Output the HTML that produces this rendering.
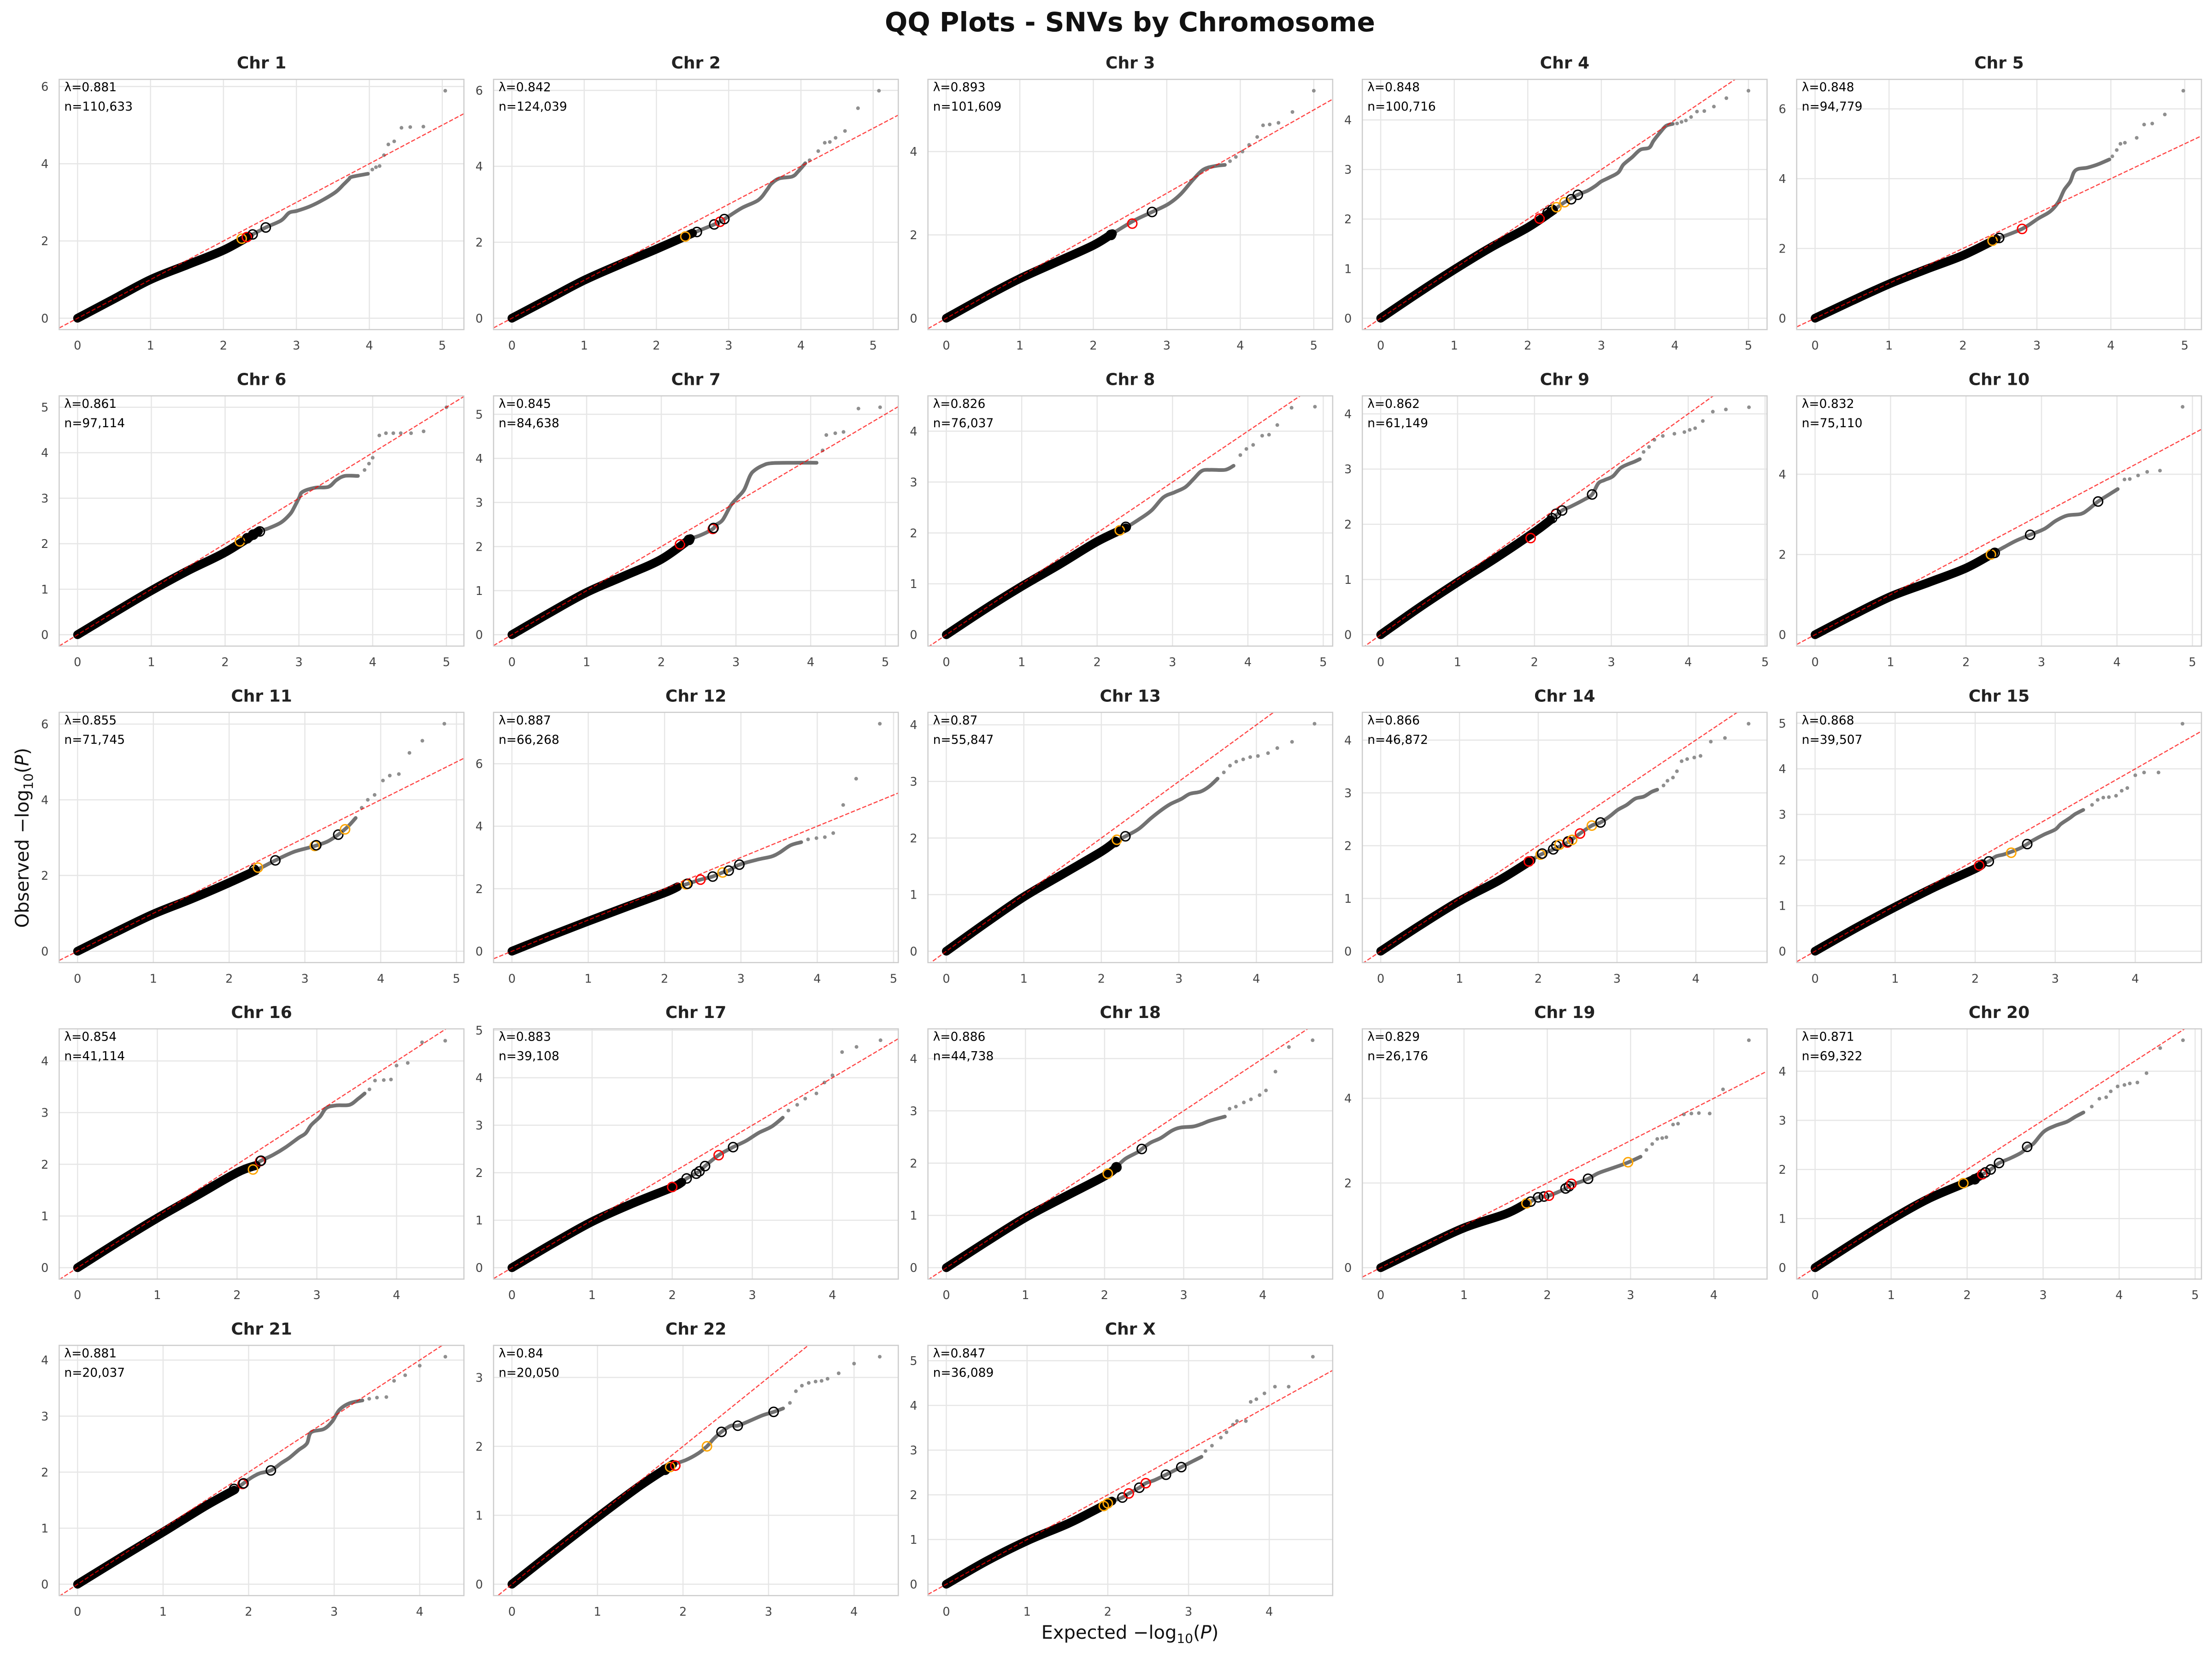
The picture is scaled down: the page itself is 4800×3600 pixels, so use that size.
<!DOCTYPE html>
<html><head><meta charset="utf-8">
<style>
html,body{margin:0;padding:0;background:#fff;}
body{width:4800px;height:3600px;overflow:hidden;}
svg{display:block;}
text{font-family:"DejaVu Sans","Liberation Sans",sans-serif;}
.tt{font-size:36px;font-weight:bold;text-anchor:middle;fill:#222;}
.lt{font-size:26.5px;fill:#000;}
.tk{font-size:25.5px;fill:#444;}
.gr{stroke:#e6e6e6;stroke-width:2.5;}
</style></head>
<body>
<svg xmlns="http://www.w3.org/2000/svg" width="4800" height="3600" viewBox="0 0 4800 3600">
<rect width="4800" height="3600" fill="#fff"/>
<text x="2452" y="68" font-size="58" font-weight="bold" text-anchor="middle" fill="#111">QQ Plots - SNVs by Chromosome</text>
<text x="2452" y="3556" font-size="40" text-anchor="middle" fill="#111">Expected −log<tspan font-size="28" dy="9">10</tspan><tspan dy="-9">(</tspan><tspan font-style="italic">P</tspan>)</text>
<text transform="translate(62,1818) rotate(-90)" font-size="40" text-anchor="middle" fill="#111">Observed −log<tspan font-size="28" dy="9">10</tspan><tspan dy="-9">(</tspan><tspan font-style="italic">P</tspan>)</text>

<g id="p0" transform="translate(128.4,172.2)"><text class="tt" x="439.15" y="-23.5">Chr 1</text><text class="lt" x="11" y="26">λ=0.881</text><text class="lt" x="11" y="68">n=110,633</text></g>
<g id="p1" transform="translate(1071,172.2)"><text class="tt" x="439.15" y="-23.5">Chr 2</text><text class="lt" x="11" y="26">λ=0.842</text><text class="lt" x="11" y="68">n=124,039</text></g>
<g id="p2" transform="translate(2013.6,172.2)"><text class="tt" x="439.15" y="-23.5">Chr 3</text><text class="lt" x="11" y="26">λ=0.893</text><text class="lt" x="11" y="68">n=101,609</text></g>
<g id="p3" transform="translate(2956.2,172.2)"><text class="tt" x="439.15" y="-23.5">Chr 4</text><text class="lt" x="11" y="26">λ=0.848</text><text class="lt" x="11" y="68">n=100,716</text></g>
<g id="p4" transform="translate(3898.8,172.2)"><text class="tt" x="439.15" y="-23.5">Chr 5</text><text class="lt" x="11" y="26">λ=0.848</text><text class="lt" x="11" y="68">n=94,779</text></g>

<g id="p5" transform="translate(128.4,859)"><text class="tt" x="439.15" y="-23.5">Chr 6</text><text class="lt" x="11" y="26">λ=0.861</text><text class="lt" x="11" y="68">n=97,114</text></g>
<g id="p6" transform="translate(1071,859)"><text class="tt" x="439.15" y="-23.5">Chr 7</text><text class="lt" x="11" y="26">λ=0.845</text><text class="lt" x="11" y="68">n=84,638</text></g>
<g id="p7" transform="translate(2013.6,859)"><text class="tt" x="439.15" y="-23.5">Chr 8</text><text class="lt" x="11" y="26">λ=0.826</text><text class="lt" x="11" y="68">n=76,037</text></g>
<g id="p8" transform="translate(2956.2,859)"><text class="tt" x="439.15" y="-23.5">Chr 9</text><text class="lt" x="11" y="26">λ=0.862</text><text class="lt" x="11" y="68">n=61,149</text></g>
<g id="p9" transform="translate(3898.8,859)"><text class="tt" x="439.15" y="-23.5">Chr 10</text><text class="lt" x="11" y="26">λ=0.832</text><text class="lt" x="11" y="68">n=75,110</text></g>

<g id="p10" transform="translate(128.4,1545.8)"><text class="tt" x="439.15" y="-23.5">Chr 11</text><text class="lt" x="11" y="26">λ=0.855</text><text class="lt" x="11" y="68">n=71,745</text></g>
<g id="p11" transform="translate(1071,1545.8)"><text class="tt" x="439.15" y="-23.5">Chr 12</text><text class="lt" x="11" y="26">λ=0.887</text><text class="lt" x="11" y="68">n=66,268</text></g>
<g id="p12" transform="translate(2013.6,1545.8)"><text class="tt" x="439.15" y="-23.5">Chr 13</text><text class="lt" x="11" y="26">λ=0.87</text><text class="lt" x="11" y="68">n=55,847</text></g>
<g id="p13" transform="translate(2956.2,1545.8)"><text class="tt" x="439.15" y="-23.5">Chr 14</text><text class="lt" x="11" y="26">λ=0.866</text><text class="lt" x="11" y="68">n=46,872</text></g>
<g id="p14" transform="translate(3898.8,1545.8)"><text class="tt" x="439.15" y="-23.5">Chr 15</text><text class="lt" x="11" y="26">λ=0.868</text><text class="lt" x="11" y="68">n=39,507</text></g>

<g id="p15" transform="translate(128.4,2232.6)"><text class="tt" x="439.15" y="-23.5">Chr 16</text><text class="lt" x="11" y="26">λ=0.854</text><text class="lt" x="11" y="68">n=41,114</text></g>
<g id="p16" transform="translate(1071,2232.6)"><text class="tt" x="439.15" y="-23.5">Chr 17</text><text class="lt" x="11" y="26">λ=0.883</text><text class="lt" x="11" y="68">n=39,108</text></g>
<g id="p17" transform="translate(2013.6,2232.6)"><text class="tt" x="439.15" y="-23.5">Chr 18</text><text class="lt" x="11" y="26">λ=0.886</text><text class="lt" x="11" y="68">n=44,738</text></g>
<g id="p18" transform="translate(2956.2,2232.6)"><text class="tt" x="439.15" y="-23.5">Chr 19</text><text class="lt" x="11" y="26">λ=0.829</text><text class="lt" x="11" y="68">n=26,176</text></g>
<g id="p19" transform="translate(3898.8,2232.6)"><text class="tt" x="439.15" y="-23.5">Chr 20</text><text class="lt" x="11" y="26">λ=0.871</text><text class="lt" x="11" y="68">n=69,322</text></g>

<g id="p20" transform="translate(128.4,2919.4)"><text class="tt" x="439.15" y="-23.5">Chr 21</text><text class="lt" x="11" y="26">λ=0.881</text><text class="lt" x="11" y="68">n=20,037</text></g>
<g id="p21" transform="translate(1071,2919.4)"><text class="tt" x="439.15" y="-23.5">Chr 22</text><text class="lt" x="11" y="26">λ=0.84</text><text class="lt" x="11" y="68">n=20,050</text></g>
<g id="p22" transform="translate(2013.6,2919.4)"><text class="tt" x="439.15" y="-23.5">Chr X</text><text class="lt" x="11" y="26">λ=0.847</text><text class="lt" x="11" y="68">n=36,089</text></g>
</svg>
<script>
var D=[
{n:110633,ym:5.89,st:2,
B:[[0,0],[0.5,0.5],[1,1.0],[1.5,1.38],[2,1.76],[2.35,2.12]],
G:[[2.35,2.12],[2.58,2.35],[2.79,2.53],[2.9,2.73],[3.01,2.78],[3.19,2.9],[3.37,3.07],[3.54,3.27],[3.65,3.47],[3.72,3.6],[3.76,3.66],[3.98,3.74]],
S:[[4.04,3.85],[4.09,3.91],[4.14,3.94],[4.2,4.22],[4.26,4.5],[4.34,4.58],[4.44,4.93],[4.56,4.95],[4.74,4.96],[5.04,5.89]],
C:[[2.25,2.06,'o'],[2.32,2.1,'r'],[2.4,2.17,'k'],[2.58,2.35,'k']]},
{n:124039,ym:5.99,st:2,
B:[[0,0],[0.5,0.5],[1,1.0],[1.5,1.42],[2,1.82],[2.5,2.24]],
G:[[2.5,2.24],[2.8,2.47],[2.94,2.61],[3.18,2.9],[3.41,3.11],[3.53,3.38],[3.59,3.54],[3.7,3.68],[3.88,3.73],[3.96,3.86],[4.06,4.08]],
S:[[4.12,4.16],[4.24,4.4],[4.33,4.62],[4.4,4.64],[4.48,4.75],[4.61,4.93],[4.79,5.53],[5.08,5.99]],
C:[[2.4,2.15,'o'],[2.56,2.27,'k'],[2.8,2.47,'k'],[2.88,2.54,'r'],[2.94,2.61,'k']]},
{n:101609,ym:5.46,st:2,
B:[[0,0],[0.5,0.49],[1,0.95],[1.5,1.35],[2,1.75],[2.26,2.03]],
G:[[2.26,2.03],[2.55,2.34],[2.8,2.55],[3.02,2.74],[3.19,2.98],[3.36,3.33],[3.5,3.57],[3.65,3.65],[3.79,3.68]],
S:[[3.86,3.77],[3.94,3.87],[4.03,4.0],[4.12,4.16],[4.23,4.35],[4.31,4.63],[4.4,4.65],[4.52,4.69],[4.71,4.95],[5.0,5.46]],
C:[[2.24,2.0,'k'],[2.53,2.27,'r'],[2.8,2.55,'k']]},
{n:100716,ym:4.59,st:1,
B:[[0,0],[0.5,0.5],[1,0.98],[1.5,1.43],[2,1.83],[2.35,2.18]],
G:[[2.35,2.18],[2.5,2.34],[2.68,2.49],[2.81,2.57],[2.92,2.67],[3.0,2.76],[3.11,2.84],[3.23,2.94],[3.3,3.1],[3.42,3.25],[3.53,3.4],[3.65,3.44],[3.71,3.58],[3.8,3.75],[3.88,3.88],[3.97,3.92]],
S:[[4.03,3.93],[4.09,3.96],[4.15,3.99],[4.22,4.06],[4.3,4.17],[4.4,4.18],[4.53,4.27],[4.7,4.44],[5.0,4.59]],
C:[[2.16,2.01,'r'],[2.27,2.13,'k'],[2.33,2.19,'k'],[2.39,2.24,'o'],[2.5,2.34,'o'],[2.59,2.4,'k'],[2.68,2.49,'k']]},
{n:94779,ym:6.52,st:2,
B:[[0,0],[0.5,0.5],[1,0.98],[1.5,1.4],[2,1.8],[2.45,2.27]],
G:[[2.45,2.27],[2.8,2.56],[3.02,2.86],[3.18,3.06],[3.29,3.33],[3.37,3.68],[3.45,3.91],[3.5,4.18],[3.56,4.28],[3.67,4.31],[3.77,4.37],[3.86,4.44],[3.98,4.55]],
S:[[4.02,4.64],[4.08,4.82],[4.13,5.0],[4.19,5.03],[4.35,5.17],[4.45,5.55],[4.56,5.58],[4.73,5.84],[4.98,6.52]],
C:[[2.4,2.22,'o'],[2.49,2.3,'k'],[2.8,2.56,'r']]},
{n:97114,ym:5.0,st:1,
B:[[0,0],[0.5,0.49],[1,0.97],[1.5,1.41],[2,1.81],[2.45,2.27]],
G:[[2.45,2.27],[2.59,2.34],[2.76,2.47],[2.88,2.65],[2.93,2.78],[3.0,3.0],[3.05,3.14],[3.22,3.23],[3.4,3.25],[3.51,3.4],[3.62,3.49],[3.8,3.49]],
S:[[3.89,3.62],[3.95,3.76],[4.0,3.89],[4.09,4.38],[4.18,4.43],[4.28,4.43],[4.38,4.43],[4.52,4.43],[4.69,4.47],[5.0,5.0]],
C:[[2.2,2.05,'o'],[2.3,2.12,'k'],[2.38,2.2,'k'],[2.47,2.27,'k']]},
{n:84638,ym:5.16,st:1,
B:[[0,0],[0.5,0.49],[1,0.96],[1.5,1.33],[2,1.71],[2.39,2.18]],
G:[[2.39,2.18],[2.53,2.26],[2.69,2.4],[2.73,2.49],[2.82,2.6],[2.93,2.93],[3.02,3.11],[3.11,3.29],[3.19,3.61],[3.25,3.73],[3.36,3.84],[3.47,3.89],[3.76,3.9],[4.08,3.9]],
S:[[4.16,4.18],[4.21,4.53],[4.33,4.57],[4.44,4.6],[4.64,5.13],[4.93,5.16]],
C:[[2.25,2.05,'r'],[2.37,2.15,'k'],[2.69,2.4,'r'],[2.7,2.42,'k']]},
{n:76037,ym:4.47,st:1,
B:[[0,0],[0.5,0.49],[1,0.95],[1.5,1.38],[2,1.83],[2.38,2.1]],
G:[[2.38,2.1],[2.55,2.26],[2.72,2.44],[2.88,2.7],[3.03,2.8],[3.17,2.9],[3.28,3.06],[3.39,3.22],[3.51,3.24],[3.7,3.24],[3.81,3.32]],
S:[[3.9,3.53],[3.98,3.65],[4.07,3.73],[4.19,3.91],[4.28,3.93],[4.39,4.12],[4.58,4.46],[4.89,4.48]],
C:[[2.3,2.05,'o'],[2.38,2.12,'k']]},
{n:61149,ym:4.12,st:1,
B:[[0,0],[0.5,0.49],[1,0.95],[1.5,1.39],[2,1.86],[2.21,2.08]],
G:[[2.21,2.08],[2.36,2.25],[2.47,2.32],[2.65,2.45],[2.75,2.54],[2.83,2.74],[2.91,2.8],[3.02,2.87],[3.13,3.03],[3.31,3.14],[3.37,3.18]],
S:[[3.42,3.31],[3.49,3.4],[3.56,3.53],[3.67,3.6],[3.82,3.64],[3.95,3.67],[4.02,3.71],[4.09,3.74],[4.19,3.87],[4.32,4.04],[4.49,4.08],[4.79,4.12]],
C:[[1.95,1.75,'r'],[2.23,2.11,'k'],[2.28,2.19,'k'],[2.36,2.25,'k'],[2.75,2.54,'k']]},
{n:75110,ym:5.67,st:2,
B:[[0,0],[0.5,0.49],[1,0.95],[1.5,1.3],[2,1.66],[2.37,2.04]],
G:[[2.37,2.04],[2.51,2.19],[2.66,2.34],[2.85,2.49],[3.04,2.64],[3.19,2.84],[3.34,2.97],[3.52,3.01],[3.62,3.12],[3.75,3.32],[3.9,3.5],[4.01,3.63]],
S:[[4.1,3.87],[4.17,3.88],[4.28,3.97],[4.4,4.06],[4.57,4.09],[4.87,5.68]],
C:[[2.33,2.0,'o'],[2.38,2.04,'k'],[2.85,2.49,'k'],[3.75,3.32,'k']]},
{n:71745,ym:6.01,st:2,
B:[[0,0],[0.5,0.5],[1,0.98],[1.5,1.38],[2,1.81],[2.35,2.13]],
G:[[2.35,2.13],[2.61,2.4],[2.8,2.58],[2.91,2.66],[3.13,2.78],[3.3,2.9],[3.44,3.08],[3.57,3.3],[3.67,3.52]],
S:[[3.75,3.79],[3.83,4.0],[3.92,4.13],[4.03,4.51],[4.12,4.64],[4.24,4.68],[4.38,5.24],[4.55,5.56],[4.84,6.01]],
C:[[2.33,2.15,'k'],[2.38,2.21,'o'],[2.61,2.4,'k'],[3.13,2.78,'o'],[3.15,2.8,'k'],[3.44,3.08,'k'],[3.53,3.22,'o']]},
{n:66268,ym:7.28,st:2,
B:[[0,0],[0.5,0.49],[1,0.96],[1.5,1.42],[2,1.87],[2.17,2.06]],
G:[[2.17,2.06],[2.28,2.14],[2.47,2.29],[2.63,2.39],[2.76,2.52],[2.84,2.58],[2.98,2.77],[3.23,2.94],[3.4,3.03],[3.51,3.16],[3.65,3.39],[3.79,3.49]],
S:[[3.88,3.58],[3.99,3.62],[4.1,3.65],[4.21,3.78],[4.34,4.68],[4.51,5.52],[4.82,7.28]],
C:[[2.28,2.14,'o'],[2.3,2.16,'k'],[2.47,2.29,'r'],[2.63,2.39,'k'],[2.76,2.52,'o'],[2.84,2.58,'k'],[2.98,2.77,'k']]},
{n:55847,ym:4.02,st:1,
B:[[0,0],[0.5,0.49],[1,0.96],[1.5,1.36],[2,1.76],[2.18,1.94]],
G:[[2.18,1.94],[2.31,2.03],[2.48,2.16],[2.64,2.35],[2.78,2.5],[2.89,2.6],[3.03,2.69],[3.14,2.78],[3.28,2.82],[3.39,2.91],[3.5,3.05]],
S:[[3.58,3.16],[3.66,3.28],[3.74,3.35],[3.83,3.39],[3.92,3.43],[4.02,3.45],[4.15,3.5],[4.27,3.59],[4.46,3.7],[4.75,4.02]],
C:[[2.18,1.93,'k'],[2.2,1.97,'o'],[2.31,2.03,'k']]},
{n:46872,ym:4.31,st:1,
B:[[0,0],[0.5,0.49],[1,0.95],[1.5,1.34],[1.91,1.72]],
G:[[1.91,1.72],[2.03,1.83],[2.19,1.93],[2.37,2.06],[2.53,2.23],[2.68,2.38],[2.79,2.44],[2.91,2.56],[3.01,2.68],[3.12,2.77],[3.23,2.89],[3.34,2.93],[3.44,3.02],[3.51,3.06]],
S:[[3.59,3.14],[3.64,3.23],[3.71,3.29],[3.76,3.41],[3.82,3.6],[3.89,3.64],[3.98,3.67],[4.06,3.7],[4.19,3.97],[4.37,4.04],[4.67,4.31]],
C:[[1.88,1.7,'r'],[2.03,1.83,'o'],[2.05,1.85,'k'],[2.19,1.93,'k'],[2.23,2.0,'k'],[2.27,2.02,'o'],[2.37,2.06,'r'],[2.38,2.08,'k'],[2.43,2.11,'o'],[2.53,2.23,'r'],[2.68,2.38,'o'],[2.79,2.44,'k']]},
{n:39507,ym:4.99,st:1,
B:[[0,0],[0.5,0.5],[1,0.97],[1.5,1.41],[2,1.81],[2.09,1.92]],
G:[[2.09,1.92],[2.17,1.97],[2.26,2.08],[2.37,2.13],[2.55,2.25],[2.65,2.35],[2.72,2.43],[2.86,2.56],[3.0,2.67],[3.07,2.79],[3.18,2.92],[3.25,3.01],[3.35,3.1]],
S:[[3.46,3.21],[3.53,3.32],[3.6,3.37],[3.67,3.38],[3.76,3.41],[3.83,3.52],[3.9,3.58],[4.0,3.86],[4.11,3.92],[4.29,3.92],[4.59,4.99]],
C:[[2.05,1.88,'r'],[2.17,1.97,'k'],[2.45,2.16,'o'],[2.65,2.35,'k']]},
{n:41114,ym:4.4,st:1,
B:[[0,0],[0.5,0.49],[1,0.96],[1.5,1.4],[2,1.84],[2.24,1.98]],
G:[[2.24,1.98],[2.29,2.06],[2.45,2.18],[2.61,2.33],[2.77,2.51],[2.86,2.6],[2.93,2.76],[3.04,2.92],[3.12,3.09],[3.25,3.14],[3.41,3.15],[3.52,3.27],[3.6,3.37]],
S:[[3.66,3.45],[3.73,3.62],[3.84,3.63],[3.93,3.64],[4.0,3.91],[4.14,3.96],[4.32,4.36],[4.61,4.39]],
C:[[2.2,1.9,'o'],[2.29,2.06,'r'],[2.3,2.07,'k']]},
{n:39108,ym:4.79,st:1,
B:[[0,0],[0.5,0.5],[1,0.97],[1.5,1.35],[2,1.69],[2.12,1.8]],
G:[[2.12,1.8],[2.18,1.88],[2.34,2.03],[2.41,2.14],[2.58,2.37],[2.76,2.54],[2.92,2.67],[3.08,2.84],[3.24,2.97],[3.38,3.16]],
S:[[3.45,3.31],[3.56,3.43],[3.66,3.56],[3.8,3.67],[3.9,3.9],[4.0,4.05],[4.12,4.54],[4.3,4.65],[4.6,4.79]],
C:[[2.0,1.7,'r'],[2.18,1.88,'k'],[2.3,1.98,'k'],[2.34,2.03,'k'],[2.41,2.14,'k'],[2.58,2.37,'r'],[2.76,2.54,'k']]},
{n:44738,ym:4.35,st:1,
B:[[0,0],[0.5,0.49],[1,0.96],[1.5,1.36],[2,1.75],[2.15,1.92]],
G:[[2.15,1.92],[2.26,2.08],[2.42,2.21],[2.47,2.27],[2.58,2.39],[2.71,2.48],[2.85,2.62],[2.96,2.68],[3.12,2.7],[3.23,2.75],[3.33,2.81],[3.52,2.89]],
S:[[3.58,3.04],[3.66,3.08],[3.76,3.16],[3.85,3.22],[3.96,3.3],[4.04,3.39],[4.16,3.75],[4.33,4.22],[4.63,4.35]],
C:[[2.04,1.8,'o'],[2.15,1.92,'k'],[2.47,2.27,'k']]},
{n:26176,ym:5.37,st:2,
B:[[0,0],[0.5,0.48],[1,0.94],[1.5,1.27],[1.74,1.51]],
G:[[1.74,1.51],[1.8,1.56],[1.89,1.66],[2.02,1.7],[2.22,1.87],[2.29,1.98],[2.34,1.99],[2.49,2.1],[2.61,2.23],[2.78,2.35],[2.95,2.47],[3.12,2.62]],
S:[[3.19,2.78],[3.26,2.92],[3.32,3.04],[3.38,3.06],[3.43,3.08],[3.51,3.38],[3.57,3.4],[3.64,3.62],[3.73,3.64],[3.82,3.65],[3.95,3.64],[4.11,4.21],[4.42,5.37]],
C:[[1.75,1.52,'o'],[1.8,1.56,'k'],[1.89,1.66,'k'],[1.96,1.68,'k'],[2.02,1.7,'r'],[2.22,1.87,'k'],[2.26,1.92,'k'],[2.29,1.98,'r'],[2.49,2.1,'k'],[2.97,2.49,'o']]},
{n:69322,ym:4.63,st:1,
B:[[0,0],[0.5,0.5],[1,0.98],[1.5,1.41],[2,1.74],[2.16,1.86]],
G:[[2.16,1.86],[2.31,2.0],[2.42,2.13],[2.57,2.23],[2.72,2.35],[2.79,2.46],[2.87,2.52],[3.01,2.77],[3.16,2.89],[3.31,2.97],[3.42,3.07],[3.53,3.16]],
S:[[3.64,3.28],[3.74,3.44],[3.83,3.47],[3.89,3.59],[3.98,3.69],[4.07,3.72],[4.14,3.75],[4.24,3.77],[4.36,3.96],[4.54,4.47],[4.84,4.63]],
C:[[1.95,1.72,'o'],[2.1,1.8,'k'],[2.2,1.9,'r'],[2.24,1.94,'k'],[2.31,2.0,'k'],[2.42,2.13,'k'],[2.79,2.46,'k']]},
{n:20037,ym:4.06,st:1,
B:[[0,0],[0.5,0.47],[1,0.93],[1.5,1.4],[1.83,1.68]],
G:[[1.83,1.68],[1.93,1.79],[2.03,1.9],[2.13,1.98],[2.26,2.03],[2.38,2.16],[2.48,2.26],[2.58,2.39],[2.68,2.51],[2.73,2.71],[2.88,2.77],[2.98,2.91],[3.06,3.11],[3.18,3.23],[3.33,3.28]],
S:[[3.41,3.31],[3.5,3.33],[3.61,3.34],[3.7,3.63],[3.83,3.73],[4.0,3.9],[4.3,4.06]],
C:[[1.83,1.7,'k'],[1.93,1.79,'r'],[1.94,1.8,'k'],[2.26,2.03,'k']]},
{n:20050,ym:3.3,st:1,
B:[[0,0],[0.5,0.49],[1,0.97],[1.5,1.43],[1.88,1.74]],
G:[[1.88,1.74],[2.03,1.8],[2.18,1.9],[2.28,2.0],[2.36,2.11],[2.45,2.21],[2.56,2.3],[2.64,2.3],[2.78,2.37],[2.93,2.45],[3.06,2.5],[3.17,2.55]],
S:[[3.25,2.63],[3.32,2.8],[3.39,2.88],[3.47,2.92],[3.55,2.94],[3.62,2.95],[3.69,2.98],[3.82,3.06],[4.0,3.2],[4.3,3.3]],
C:[[1.79,1.66,'k'],[1.85,1.7,'o'],[1.91,1.72,'r'],[2.28,2.0,'o'],[2.45,2.21,'k'],[2.64,2.3,'k'],[3.06,2.5,'k']]},
{n:36089,ym:5.09,st:1,
B:[[0,0],[0.5,0.52],[1,0.97],[1.5,1.35],[1.8,1.62],[2.05,1.86]],
G:[[2.05,1.86],[2.18,1.94],[2.26,2.03],[2.39,2.16],[2.47,2.26],[2.58,2.33],[2.72,2.45],[2.84,2.56],[2.91,2.62],[3.05,2.75],[3.16,2.85]],
S:[[3.21,2.98],[3.29,3.1],[3.4,3.28],[3.47,3.4],[3.55,3.57],[3.6,3.65],[3.71,3.65],[3.77,4.08],[3.84,4.14],[3.94,4.27],[4.07,4.42],[4.24,4.42],[4.54,5.09]],
C:[[1.95,1.75,'o'],[2.0,1.81,'o'],[2.18,1.94,'k'],[2.26,2.03,'r'],[2.39,2.16,'k'],[2.47,2.26,'r'],[2.72,2.45,'k'],[2.91,2.62,'k']]}
];
var W=878.3,H=543,NS="http://www.w3.org/2000/svg";
function f(v){return Math.round(v*10)/10;}
var COL={k:'#000000',r:'#ff0000',o:'#ffa500'};
D.forEach(function(p,i){
  var g=document.getElementById('p'+i);
  var xm=Math.log(p.n)/Math.LN10, ym=p.ym;
  var x0=-0.05*xm,x1=1.05*xm,y0=-0.05*ym,y1=1.05*ym;
  var X=function(v){return f((v-x0)/(x1-x0)*W);};
  var Y=function(v){return f(H-(v-y0)/(y1-y0)*H);};
  var s='<defs><clipPath id="c'+i+'"><rect x="0" y="0" width="'+W+'" height="'+H+'"/></clipPath></defs>';
  var t;
  for(t=0;t<=x1;t++){var px=X(t);
    s+='<line class="gr" x1="'+px+'" y1="0" x2="'+px+'" y2="'+H+'"/>';
    s+='<text class="tk" x="'+px+'" y="'+(H+43.5)+'" text-anchor="middle">'+t+'</text>';}
  for(t=0;t<=y1;t+=p.st){var py=Y(t);
    s+='<line class="gr" x1="0" y1="'+py+'" x2="'+W+'" y2="'+py+'"/>';
    s+='<text class="tk" x="-23" y="'+f(py+9.3)+'" text-anchor="end">'+t+'</text>';}
  function pth(a){
    var P=a.map(function(q){return [X(q[0]),Y(q[1])];});
    var d='M'+P[0][0]+','+P[0][1];
    for(var k=0;k<P.length-1;k++){
      var pa=P[k>0?k-1:k],pb=P[k],pc=P[k+1],pd=P[k+2<P.length?k+2:k+1];
      var c1x=f(pb[0]+(pc[0]-pa[0])/6),c1y=f(pb[1]+(pc[1]-pa[1])/6);
      var c2x=f(pc[0]-(pd[0]-pb[0])/6),c2y=f(pc[1]-(pd[1]-pb[1])/6);
      d+='C'+c1x+','+c1y+' '+c2x+','+c2y+' '+pc[0]+','+pc[1];
    }
    return d;}
  s+='<path d="'+pth(p.G)+'" fill="none" stroke="#727272" stroke-width="8" stroke-linecap="round" stroke-linejoin="round"/>';
  p.S.forEach(function(q){s+='<circle cx="'+X(q[0])+'" cy="'+Y(q[1])+'" r="4" fill="#8f8f8f"/>';});
  s+='<path d="'+pth(p.B)+'" fill="none" stroke="#000" stroke-width="19" stroke-linecap="round" stroke-linejoin="round"/>';
  p.C.forEach(function(q){s+='<circle cx="'+X(q[0])+'" cy="'+Y(q[1])+'" r="10" fill="none" stroke="'+COL[q[2]]+'" stroke-width="3"/>';});
  s+='<line x1="'+X(x0)+'" y1="'+Y(x0)+'" x2="'+X(x1+2)+'" y2="'+Y(x1+2)+'" stroke="#ff0000" stroke-opacity="0.72" stroke-width="2.5" stroke-dasharray="9.3,4" clip-path="url(#c'+i+')"/>';
  s+='<rect x="0" y="0" width="'+W+'" height="'+H+'" fill="none" stroke="#cccccc" stroke-width="2.5"/>';
  var gg=document.createElementNS(NS,'g');
  gg.innerHTML=s;
  g.insertBefore(gg,g.firstChild);
});
</script>
</body></html>
